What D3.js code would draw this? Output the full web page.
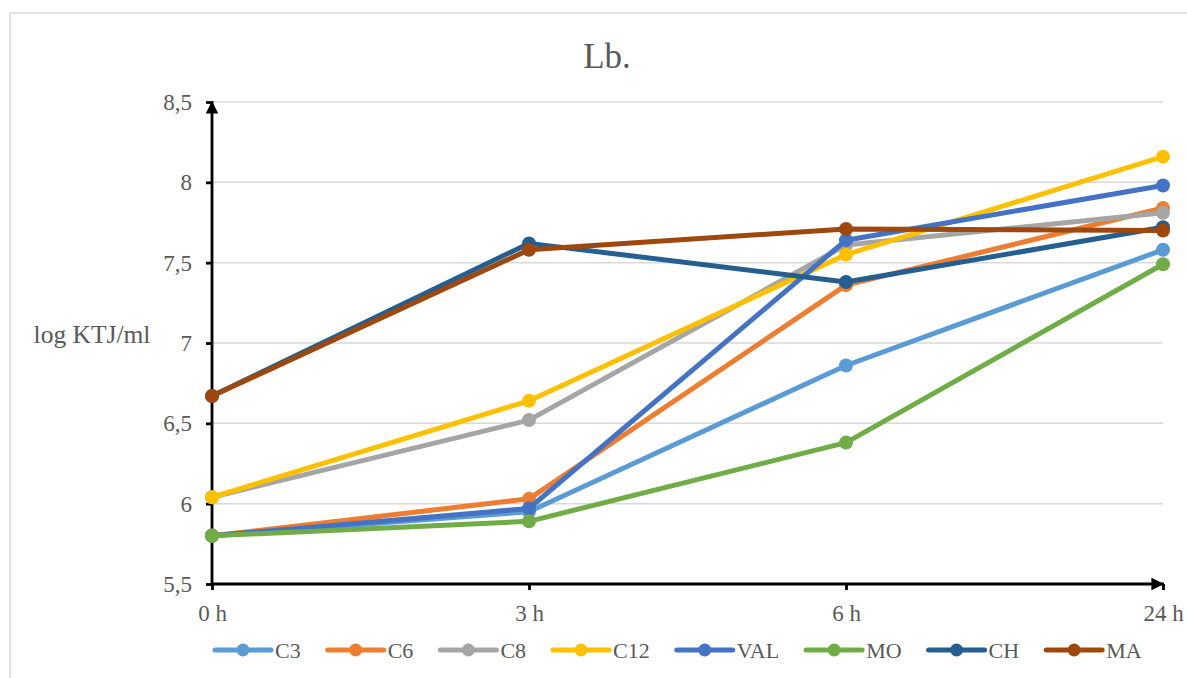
<!DOCTYPE html>
<html>
<head>
<meta charset="utf-8">
<script src="https://cdn.jsdelivr.net/npm/d3@7"></script>
<style>
  html, body { margin: 0; padding: 0; background: #fff; }
  svg { display: block; }
  text { font-family: "Liberation Serif", "Times New Roman", serif; }
</style>
</head>
<body>
<svg id="chart" width="1187" height="678"></svg>
<script>
// Time points and series (log KTJ/ml)
const categories = ["0 h", "3 h", "6 h", "24 h"];
const seriesNames = ["C3", "C6", "C8", "C12", "VAL", "MO", "CH", "MA"];
const seriesColors = ["#5B9BD5", "#ED7D31", "#A5A5A5", "#FFC000", "#4472C4", "#70AD47", "#255E91", "#9E480E"];
const C3  = [5.80, 5.95, 6.86, 7.58];
const C6  = [5.80, 6.03, 7.36, 7.84];
const C8  = [6.04, 6.52, 7.61, 7.81];
const C12 = [6.04, 6.64, 7.55, 8.16];
const VAL = [5.80, 5.97, 7.64, 7.98];
const MO  = [5.80, 5.89, 6.38, 7.49];
const CH  = [6.67, 7.62, 7.38, 7.72];
const MA  = [6.67, 7.58, 7.71, 7.70];
const seriesValues = [C3, C6, C8, C12, VAL, MO, CH, MA];
const yTicks = [5.5, 6, 6.5, 7, 7.5, 8, 8.5];
const yTickLabels = ["5,5", "6", "6,5", "7", "7,5", "8", "8,5"];

const FONT = "'Liberation Serif', 'Times New Roman', serif";
const TEXT_COLOR = "#595959";
const svg = d3.select("#chart");

// Chart frame
svg.append("rect")
  .attr("x", 10).attr("y", 13)
  .attr("width", 1200).attr("height", 700)
  .attr("fill", "#fff").attr("stroke", "#d9d9d9").attr("stroke-width", 1.5);

const x = d3.scalePoint().domain(categories).range([212, 1163]);
const y = d3.scaleLinear().domain([5.5, 8.5]).range([584, 102]);

// Gridlines
svg.append("g").selectAll("line")
  .data(yTicks.slice(1))
  .join("line")
  .attr("x1", 212).attr("x2", 1163)
  .attr("y1", d => y(d)).attr("y2", d => y(d))
  .attr("stroke", "#d9d9d9").attr("stroke-width", 1.5);

// Arrowhead for the axis lines
svg.append("defs").append("marker")
  .attr("id", "arrow")
  .attr("viewBox", "0 0 10 10")
  .attr("refX", 10).attr("refY", 5)
  .attr("markerWidth", 5.5).attr("markerHeight", 4.5)
  .attr("markerUnits", "strokeWidth")
  .attr("orient", "auto")
  .append("path")
  .attr("d", "M0,0 L10,5 L0,10 Z")
  .attr("fill", "#000");

// Y axis
const yAxis = d3.axisLeft(y).tickValues(yTicks)
  .tickFormat((d, i) => yTickLabels[i]).tickSize(6).tickPadding(14);
const gy = svg.append("g").attr("transform", "translate(212,0)").call(yAxis);
gy.select(".domain").remove();
gy.selectAll(".tick line").attr("stroke", "#000").attr("stroke-width", 2.8);
gy.selectAll(".tick text")
  .attr("fill", TEXT_COLOR).style("font-size", "23px").style("font-family", FONT);

// X axis
const xAxis = d3.axisBottom(x).tickSize(6).tickPadding(15);
const gx = svg.append("g").attr("transform", "translate(0,584)").call(xAxis);
gx.select(".domain").remove();
gx.selectAll(".tick line").attr("stroke", "#000").attr("stroke-width", 2.8);
gx.selectAll(".tick text")
  .attr("fill", TEXT_COLOR).style("font-size", "23px").style("font-family", FONT);

// Axis lines with arrowheads
svg.append("line")
  .attr("x1", 212).attr("y1", 585).attr("x2", 212).attr("y2", 101)
  .attr("stroke", "#000").attr("stroke-width", 2.8)
  .attr("marker-end", "url(#arrow)");
svg.append("line")
  .attr("x1", 211).attr("y1", 584).attr("x2", 1164).attr("y2", 584)
  .attr("stroke", "#000").attr("stroke-width", 2.8)
  .attr("marker-end", "url(#arrow)");

// Series lines and markers
const line = d3.line().x((d, i) => x(categories[i])).y(d => y(d));
const gSeries = svg.append("g");
seriesValues.forEach((vals, s) => {
  const g = gSeries.append("g");
  g.append("path")
    .attr("d", line(vals))
    .attr("fill", "none")
    .attr("stroke", seriesColors[s])
    .attr("stroke-width", 5)
    .attr("stroke-linejoin", "round")
    .attr("stroke-linecap", "round");
  g.selectAll("circle").data(vals).join("circle")
    .attr("cx", (d, i) => x(categories[i]))
    .attr("cy", d => y(d))
    .attr("r", 7)
    .attr("fill", seriesColors[s]);
});

// Title
svg.append("text")
  .attr("x", 607).attr("y", 68)
  .attr("text-anchor", "middle")
  .attr("fill", TEXT_COLOR)
  .style("font-size", "35px")
  .text("Lb.");

// Y axis title
svg.append("text")
  .attr("x", 92).attr("y", 343)
  .attr("text-anchor", "middle")
  .attr("fill", TEXT_COLOR)
  .style("font-size", "25.5px")
  .text("log KTJ/ml");

// Legend
const legend = svg.append("g");
let lx = 215;
const ly = 650;
seriesNames.forEach((name, s) => {
  const g = legend.append("g");
  g.append("line")
    .attr("x1", lx).attr("x2", lx + 56)
    .attr("y1", ly).attr("y2", ly)
    .attr("stroke", seriesColors[s]).attr("stroke-width", 5)
    .attr("stroke-linecap", "round");
  g.append("circle")
    .attr("cx", lx + 28).attr("cy", ly).attr("r", 6.5)
    .attr("fill", seriesColors[s]);
  const t = g.append("text")
    .attr("x", lx + 60).attr("y", ly + 8)
    .attr("fill", TEXT_COLOR)
    .style("font-size", "22px")
    .text(name);
  lx += 60 + t.node().getComputedTextLength() + 27;
});
</script>
</body>
</html>
